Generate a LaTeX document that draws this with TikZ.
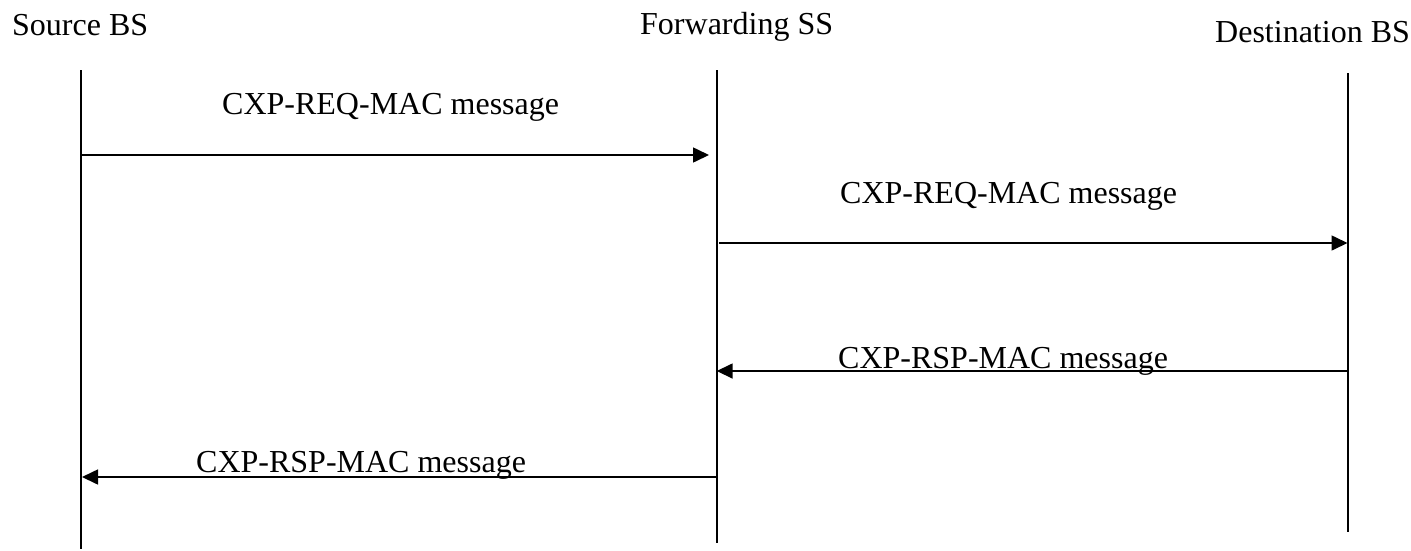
\documentclass[tikz,border=0pt]{standalone}
\usepackage{fontspec}
\setmainfont{Liberation Serif}
\usetikzlibrary{arrows.meta}
\tikzset{
  lifeline/.style={line width=2pt},
  msg/.style={line width=1.6pt,-{Triangle[length=16pt,width=15pt]}},
  head/.style={anchor=base west,inner sep=0pt,font=\fontsize{32}{38}\selectfont},
  lbl/.style={anchor=base west,inner sep=0pt,font=\fontsize{32}{38}\selectfont}
}
\begin{document}
\begin{tikzpicture}[x=1pt,y=-1pt]
\useasboundingbox (0,0) rectangle (1411,550);
% headers
\node[head] (hs) at (12,35) {Source BS};
\node[head] (hf) at (640,34) {Forwarding SS};
\node[head] (hd) at (1215,42) {Destination BS};
% lifelines
\coordinate (st) at (80.7,70);  \coordinate (sb) at (80.7,549);
\coordinate (ft) at (716.7,70); \coordinate (fb) at (716.7,543);
\coordinate (dt) at (1347.5,73); \coordinate (db) at (1347.5,532);
\draw[lifeline] (st) -- (sb);
\draw[lifeline] (ft) -- (fb);
\draw[lifeline] (dt) -- (db);
% message end points
\coordinate (m1a) at (80.7,155);  \coordinate (m1b) at (709,155);
\coordinate (m2a) at (719,243);   \coordinate (m2b) at (1347.5,243);
\coordinate (m3a) at (1347.5,371); \coordinate (m3b) at (716.7,371);
\coordinate (m4a) at (716.7,477); \coordinate (m4b) at (82,477);
\draw[msg] (m1a) -- (m1b);
\draw[msg] (m2a) -- (m2b);
\draw[msg] (m3a) -- (m3b);
\draw[msg] (m4a) -- (m4b);
% labels
\node[lbl] (l1) at (222,114) {CXP-REQ-MAC message};
\node[lbl] (l2) at (840,203) {CXP-REQ-MAC message};
\node[lbl] (l3) at (838,368) {CXP-RSP-MAC message};
\node[lbl] (l4) at (196,472) {CXP-RSP-MAC message};
\end{tikzpicture}
\end{document}
